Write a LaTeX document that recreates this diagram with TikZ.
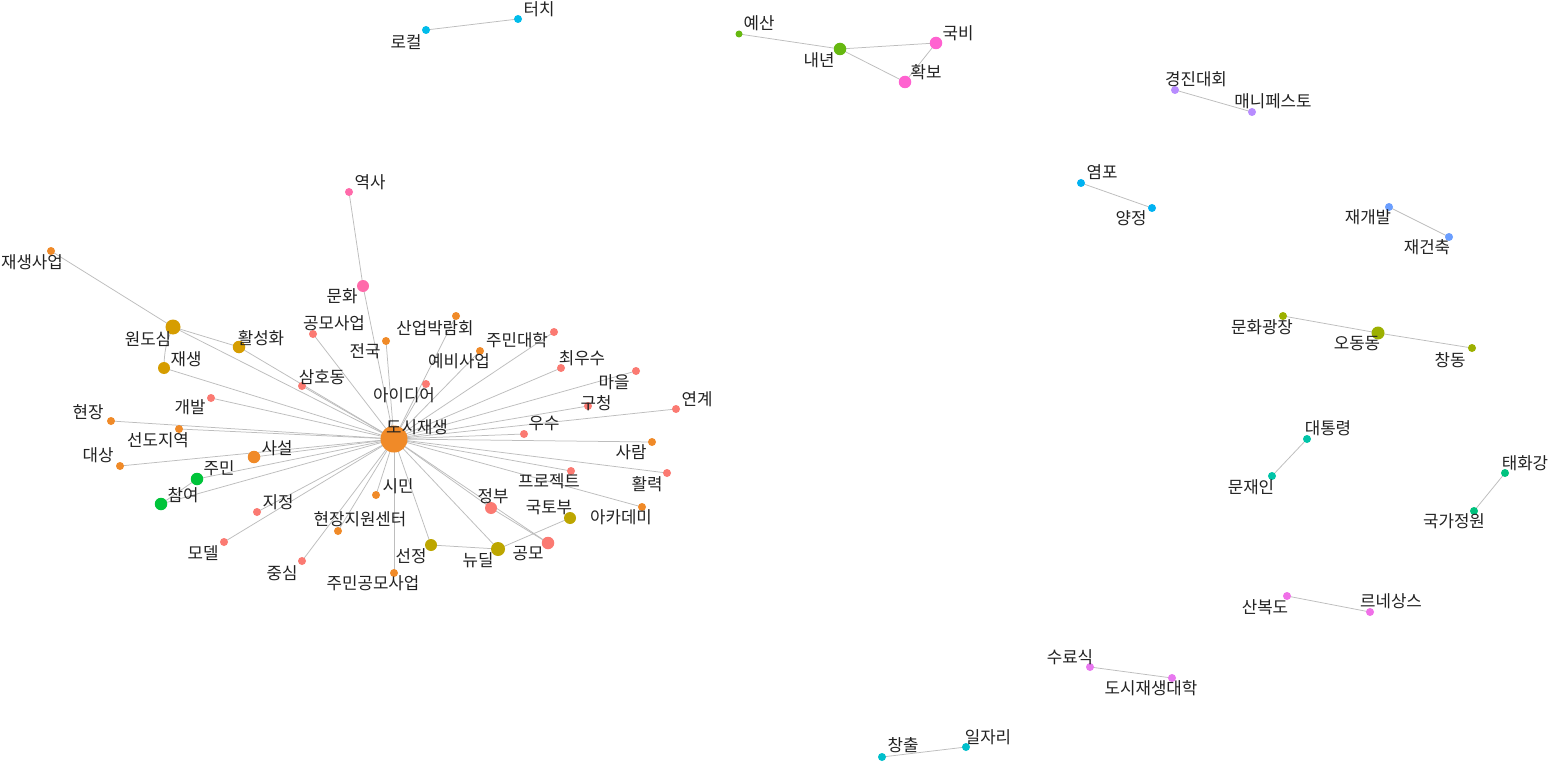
\documentclass[tikz,border=0pt]{standalone}
\usepackage{fontspec}
\setmainfont{Noto Sans CJK KR}
\usetikzlibrary{backgrounds}
\definecolor{sal}{HTML}{FB7A72}
\definecolor{orn}{HTML}{F08A28}
\definecolor{dyl}{HTML}{D69D00}
\definecolor{olv}{HTML}{BDA600}
\definecolor{olg}{HTML}{9CB000}
\definecolor{grA}{HTML}{66B810}
\definecolor{grB}{HTML}{00C43A}
\definecolor{tgr}{HTML}{00C27E}
\definecolor{tea}{HTML}{00C4A8}
\definecolor{cyA}{HTML}{00BFCC}
\definecolor{cyB}{HTML}{00BCEA}
\definecolor{lbl}{HTML}{00B2F2}
\definecolor{blu}{HTML}{6A9EFF}
\definecolor{pur}{HTML}{B88CFF}
\definecolor{mgA}{HTML}{E878F0}
\definecolor{mgB}{HTML}{F070E8}
\definecolor{pkA}{HTML}{FF62D0}
\definecolor{pkB}{HTML}{FF6AAA}
\definecolor{txt}{HTML}{222222}
\definecolor{edg}{HTML}{BDBDBD}
\tikzset{
  dot/.style={circle, fill=#1, draw=none, inner sep=0pt},
  lab/.style={font=\fontsize{16.8}{19}\selectfont, text=txt, inner sep=0pt, anchor=center},
  link/.style={draw=edg, line width=0.75pt}
}
\newcommand{\vtx}[6]{\node[dot=#3,minimum size=#4pt] (#1) at (#2) {};\node[lab] (#1l) at (#5) {#6};}
\begin{document}
\begin{tikzpicture}[x=1pt,y=-1pt]
\useasboundingbox (0,0) rectangle (1550,762);
% main cluster
\vtx{c}{394,439}{orn}{27}{417,427}{도시재생}
\vtx{yeoksa}{349,192}{pkB}{8}{370,182}{역사}
\vtx{munhwa}{363,286}{pkB}{12}{342,296}{문화}
\vtx{jsaeop}{51,251}{orn}{8}{32,262}{재생사업}
\vtx{wondo}{173,327}{dyl}{15}{148,339}{원도심}
\vtx{hwal}{239,347}{dyl}{12.5}{261,338}{활성화}
\vtx{jaes}{164,368}{dyl}{12}{186,359}{재생}
\vtx{gmsa}{313,334}{sal}{8}{334,323}{공모사업}
\vtx{jeonguk}{386,341}{orn}{8}{365,351}{전국}
\vtx{sanup}{456,316}{orn}{8}{435,328}{산업박람회}
\vtx{yebi}{480,351}{orn}{8}{459,361}{예비사업}
\vtx{jmdh}{554,332}{sal}{8}{517,340}{주민대학}
\vtx{choe}{561,368}{sal}{8}{582,358}{최우수}
\vtx{maeul}{636,371}{sal}{8}{614,382}{마을}
\vtx{gucheong}{588,406}{sal}{8}{596,403}{구청}
\vtx{yeongye}{676,409}{sal}{8}{697,399}{연계}
\vtx{usu}{524,434}{sal}{8}{544,423}{우수}
\vtx{saram}{652,442}{orn}{8}{631,452}{사람}
\vtx{hwallyeok}{667,473}{sal}{8}{647,484}{활력}
\vtx{proj}{571,471}{sal}{8}{549,481}{프로젝트}
\vtx{acad}{642,507}{orn}{8}{621,517}{아카데미}
\vtx{gukto}{570,518}{olv}{12}{549,508}{국토부}
\vtx{gongmo}{548,543}{sal}{12.5}{528,554}{공모}
\vtx{jeongbu}{491,508}{sal}{12}{493,496}{정부}
\vtx{newdeal}{498,549}{olv}{14}{478,560}{뉴딜}
\vtx{seonjeong}{431,545}{olv}{12}{411,556}{선정}
\vtx{jmgmsa}{394,573}{orn}{8}{373,583}{주민공모사업}
\vtx{simin}{376,495}{orn}{8}{398,486}{시민}
\vtx{hjjw}{338,531}{orn}{8}{360,519}{현장지원센터}
\vtx{jungsim}{302,561}{sal}{8}{282,573}{중심}
\vtx{model}{224,542}{sal}{8}{203,553}{모델}
\vtx{jijeong}{257,512}{sal}{8}{278,502}{지정}
\vtx{chamyeo}{161,504}{grB}{12.5}{183,495}{참여}
\vtx{jumin}{197,479}{grB}{12.5}{219,468}{주민}
\vtx{saseol}{254,457}{orn}{12.5}{277,448}{사설}
\vtx{daesang}{120,466}{orn}{8}{98,455}{대상}
\vtx{seondo}{179,429}{orn}{8}{158,440}{선도지역}
\vtx{hyeonjang}{111,421}{orn}{8}{88,412}{현장}
\vtx{gaebal}{211,398}{sal}{8}{190,407}{개발}
\vtx{samho}{302,386}{sal}{8}{322,377}{삼호동}
\vtx{idea}{426,384}{sal}{8}{404,395}{아이디어}
% small clusters
\vtx{local}{426,30}{cyB}{8}{406,42}{로컬}
\vtx{touch}{518,19}{cyB}{8}{539,9}{터치}
\vtx{yesan}{739,34}{grA}{7}{759,23}{예산}
\vtx{naenyeon}{840,49}{grA}{12.5}{819,60}{내년}
\vtx{gukbi}{936,43}{pkA}{12.5}{958,33}{국비}
\vtx{hwakbo}{905,82}{pkA}{12.5}{926,72}{확보}
\vtx{kyeongjin}{1175,90}{pur}{8}{1196,79}{경진대회}
\vtx{manifesto}{1252,112}{pur}{8}{1273,101}{매니페스토}
\vtx{yeompo}{1081,183}{lbl}{8}{1102,172}{염포}
\vtx{yangjeong}{1152,208}{lbl}{8}{1131,218}{양정}
\vtx{jaegaebal}{1389,207}{blu}{8}{1368,217}{재개발}
\vtx{jaegeon}{1449,237}{blu}{8}{1427,247}{재건축}
\vtx{mhgj}{1283,316}{olg}{8}{1262,327}{문화광장}
\vtx{odong}{1378,333}{olg}{13}{1357,344}{오동동}
\vtx{changdong}{1472,348}{olg}{8}{1450,360}{창동}
\vtx{president}{1307,439}{tea}{8}{1328,428}{대통령}
\vtx{moon}{1272,476}{tea}{8}{1251,487}{문재인}
\vtx{taehwa}{1505,473}{tgr}{8}{1525,463}{태화강}
\vtx{garden}{1474,511}{tgr}{8}{1454,521}{국가정원}
\vtx{sanbok}{1287,596}{mgB}{8}{1265,607}{산복도}
\vtx{renai}{1370,612}{mgB}{8}{1391,601}{르네상스}
\vtx{suryo}{1090,667}{mgA}{8}{1070,657}{수료식}
\vtx{univ}{1172,678}{mgA}{8}{1151,688}{도시재생대학}
\vtx{changchul}{882,757}{cyA}{8}{903,745}{창출}
\vtx{jobs}{966,747}{cyA}{8}{988,737}{일자리}
% edges
\begin{scope}[on background layer]
\fill[white] (0,0) rectangle (1550,762);
\foreach \n in {munhwa,wondo,hwal,jaes,gmsa,jeonguk,sanup,yebi,jmdh,choe,maeul,gucheong,yeongye,usu,saram,hwallyeok,proj,acad,jeongbu,gongmo,newdeal,seonjeong,jmgmsa,simin,hjjw,jungsim,model,jijeong,chamyeo,jumin,saseol,daesang,seondo,hyeonjang,gaebal,samho,idea}
  \draw[link] (c.center) -- (\n.center);
\draw[link] (yeoksa.center) -- (munhwa.center);
\draw[link] (jsaeop.center) -- (wondo.center);
\draw[link] (wondo.center) -- (hwal.center);
\draw[link] (wondo.center) to[bend right=12] (jaes.center);
\draw[link] (jeongbu.center) -- (gongmo.center);
\draw[link] (gukto.center) -- (newdeal.center);
\draw[link] (seonjeong.center) -- (newdeal.center);
\draw[link] (chamyeo.center) -- (jumin.center);
\draw[link] (local.center) -- (touch.center);
\draw[link] (yesan.center) -- (naenyeon.center);
\draw[link] (naenyeon.center) -- (gukbi.center);
\draw[link] (naenyeon.center) -- (hwakbo.center);
\draw[link] (gukbi.center) -- (hwakbo.center);
\draw[link] (kyeongjin.center) -- (manifesto.center);
\draw[link] (yeompo.center) -- (yangjeong.center);
\draw[link] (jaegaebal.center) -- (jaegeon.center);
\draw[link] (mhgj.center) -- (odong.center);
\draw[link] (odong.center) -- (changdong.center);
\draw[link] (president.center) -- (moon.center);
\draw[link] (taehwa.center) -- (garden.center);
\draw[link] (sanbok.center) -- (renai.center);
\draw[link] (suryo.center) -- (univ.center);
\draw[link] (changchul.center) -- (jobs.center);
\end{scope}
\end{tikzpicture}
\end{document}
